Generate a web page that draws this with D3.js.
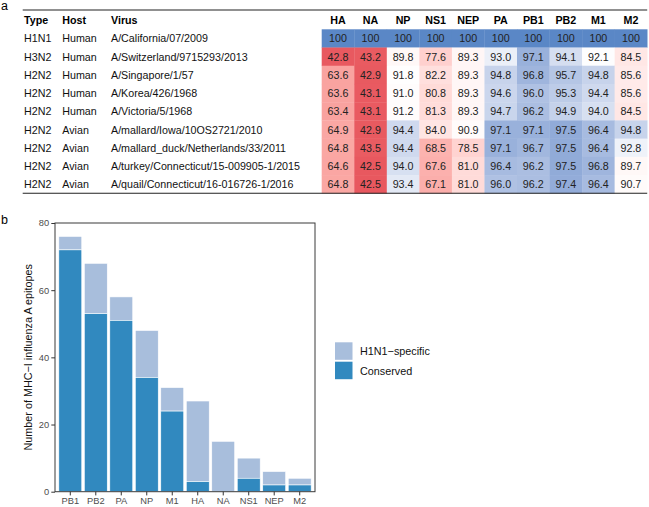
<!DOCTYPE html>
<html>
<head>
<meta charset="utf-8">
<script src="https://cdn.jsdelivr.net/npm/d3@7"></script>
<style>
  body { margin: 0; background: #fff; }
  svg { display: block; font-family: "Liberation Sans", Arial, sans-serif; }
</style>
</head>
<body>
<div id="chart"></div>
<script>
// ---- table (panel a) ----
const proteins = ["HA", "NA", "NP", "NS1", "NEP", "PA", "PB1", "PB2", "M1", "M2"];
const virusTypes = ["H1N1", "H3N2", "H2N2", "H2N2", "H2N2", "H2N2", "H2N2", "H2N2", "H2N2"];
const hosts = ["Human", "Human", "Human", "Human", "Human", "Avian", "Avian", "Avian", "Avian"];
const viruses = [
    "A/California/07/2009",
    "A/Switzerland/9715293/2013",
    "A/Singapore/1/57",
    "A/Korea/426/1968",
    "A/Victoria/5/1968",
    "A/mallard/Iowa/10OS2721/2010",
    "A/mallard_duck/Netherlands/33/2011",
    "A/turkey/Connecticut/15-009905-1/2015",
    "A/quail/Connecticut/16-016726-1/2016"
];
const identity = [
    [100, 100, 100, 100, 100, 100, 100, 100, 100, 100],
    [42.8, 43.2, 89.8, 77.6, 89.3, 93.0, 97.1, 94.1, 92.1, 84.5],
    [63.6, 42.9, 91.8, 82.2, 89.3, 94.8, 96.8, 95.7, 94.8, 85.6],
    [63.6, 43.1, 91.0, 80.8, 89.3, 94.6, 96.0, 95.3, 94.4, 85.6],
    [63.4, 43.1, 91.2, 81.3, 89.3, 94.7, 96.2, 94.9, 94.0, 84.5],
    [64.9, 42.9, 94.4, 84.0, 90.9, 97.1, 97.1, 97.5, 96.4, 94.8],
    [64.8, 43.5, 94.4, 68.5, 78.5, 97.1, 96.7, 97.5, 96.4, 92.8],
    [64.6, 42.5, 94.0, 67.6, 81.0, 96.4, 96.2, 97.5, 96.8, 89.7],
    [64.8, 42.5, 93.4, 67.1, 81.0, 96.0, 96.2, 97.4, 96.4, 90.7]
];

// ---- bar chart (panel b) ----
const genes = ["PB1", "PB2", "PA", "NP", "M1", "HA", "NA", "NS1", "NEP", "M2"];
const totalEpitopes = [76, 68, 58, 48, 31, 27, 15, 10, 6, 4];
const conservedEpitopes = [72, 53, 51, 34, 24, 3, 0, 4, 2, 2];
const yTicks = [0, 20, 40, 60, 80];
const legendLabels = ["H1N1\u2212specific", "Conserved"];

document.addEventListener("DOMContentLoaded", function () {
    const width = 649, height = 507;
    const svg = d3.select("#chart").append("svg")
        .attr("width", width)
        .attr("height", height);

    // panel letters
    svg.append("text").attr("x", 1).attr("y", 9.5)
        .style("font-size", "12.5px").text("a");
    svg.append("text").attr("x", 1).attr("y", 224)
        .style("font-size", "12.5px").text("b");

    // ---------- table ----------
    const fs = "10.7px";
    const tableLeft = 22.7, tableRight = 647.2;
    const rowTop = 29.3, rowH = 18.22;
    const cellX = d3.scaleBand().domain(proteins).range([321.7, tableRight]);
    const rowY = i => rowTop + i * rowH;

    const colour = d3.scaleLinear()
        .domain([42.5, 92, 100])
        .range(["#e8585f", "#ffffff", "#5a87c6"])
        .interpolate(d3.interpolateLab)
        .clamp(true);

    // header
    const header = svg.append("g").style("font-weight", "bold").style("font-size", fs);
    [["Type", 24], ["Host", 62.3], ["Virus", 111]].forEach(([t, x]) => {
        header.append("text").attr("x", x).attr("y", 19.5)
            .attr("dominant-baseline", "central").text(t);
    });
    header.selectAll("text.prot")
        .data(proteins)
        .enter()
        .append("text")
        .attr("class", "prot")
        .attr("x", d => cellX(d) + cellX.bandwidth() / 2)
        .attr("y", 19.5)
        .attr("text-anchor", "middle")
        .attr("dominant-baseline", "central")
        .text(d => d);

    // cells
    const rows = svg.append("g").selectAll("g")
        .data(identity)
        .enter()
        .append("g");

    rows.selectAll("rect")
        .data((row, i) => row.map((v, j) => ({ v, i, p: proteins[j] })))
        .enter()
        .append("rect")
        .attr("x", d => cellX(d.p))
        .attr("y", d => rowY(d.i))
        .attr("width", cellX.bandwidth() + 0.3)
        .attr("height", rowH + 0.3)
        .attr("fill", d => colour(d.v));

    rows.selectAll("text.val")
        .data((row, i) => row.map((v, j) => ({ v, i, p: proteins[j] })))
        .enter()
        .append("text")
        .attr("class", "val")
        .attr("x", d => cellX(d.p) + cellX.bandwidth() / 2)
        .attr("y", d => rowY(d.i) + rowH / 2)
        .attr("text-anchor", "middle")
        .attr("dominant-baseline", "central")
        .style("font-size", fs)
        .style("fill", "#222")
        .text(d => d.v === 100 ? "100" : d.v.toFixed(1));

    const labelCols = [[virusTypes, 24], [hosts, 62.3], [viruses, 111]];
    labelCols.forEach(([arr, x]) => {
        svg.append("g").selectAll("text")
            .data(arr)
            .enter()
            .append("text")
            .attr("x", x)
            .attr("y", (d, i) => rowY(i) + rowH / 2)
            .attr("dominant-baseline", "central")
            .style("font-size", fs)
            .style("fill", "#111")
            .text(d => d);
    });

    // rules
    svg.append("line").attr("x1", tableLeft).attr("x2", tableRight)
        .attr("y1", 10).attr("y2", 10).attr("stroke", "#222").attr("stroke-width", 1.1);
    svg.append("line").attr("x1", tableLeft).attr("x2", tableRight)
        .attr("y1", rowY(identity.length)).attr("y2", rowY(identity.length))
        .attr("stroke", "#222").attr("stroke-width", 1.1);

    // ---------- bar chart ----------
    const plot = { left: 55, right: 315, top: 223, bottom: 491.7 };
    const x = d3.scaleBand().domain(genes).range([plot.left, plot.right])
        .paddingInner(0.1).paddingOuter(0.15);
    const y = d3.scaleLinear().domain([0, 80]).range([plot.bottom, plot.top]);

    const lightBlue = "#a8bedc", darkBlue = "#3189bf";

    const bars = genes.map((g, i) => ({ g, total: totalEpitopes[i], cons: conservedEpitopes[i] }));

    svg.append("g").selectAll("rect")
        .data(bars)
        .enter()
        .append("rect")
        .attr("x", d => x(d.g))
        .attr("y", d => y(d.total))
        .attr("width", x.bandwidth())
        .attr("height", d => y(d.cons) - y(d.total))
        .attr("fill", lightBlue)
        .attr("stroke", "#fff")
        .attr("stroke-width", 0.6);

    svg.append("g").selectAll("rect")
        .data(bars.filter(d => d.cons > 0))
        .enter()
        .append("rect")
        .attr("x", d => x(d.g))
        .attr("y", d => y(d.cons))
        .attr("width", x.bandwidth())
        .attr("height", d => y(0) - y(d.cons))
        .attr("fill", darkBlue)
        .attr("stroke", "#fff")
        .attr("stroke-width", 0.6);

    // panel border
    svg.append("rect")
        .attr("x", plot.left).attr("y", plot.top)
        .attr("width", plot.right - plot.left)
        .attr("height", plot.bottom - plot.top)
        .attr("fill", "none")
        .attr("stroke", "#3a3a3a")
        .attr("stroke-width", 1);

    // axes
    const yAxis = svg.append("g")
        .attr("transform", `translate(${plot.left},0)`)
        .call(d3.axisLeft(y).tickValues(yTicks).tickSize(3.7).tickPadding(2.2));
    const xAxis = svg.append("g")
        .attr("transform", `translate(0,${plot.bottom})`)
        .call(d3.axisBottom(x).tickSize(3.7).tickPadding(2.2));

    [yAxis, xAxis].forEach(ax => {
        ax.select(".domain").remove();
        ax.selectAll(".tick line").attr("stroke", "#333");
        ax.selectAll(".tick text")
            .style("font-family", "Liberation Sans, Arial, sans-serif")
            .style("font-size", "9.3px")
            .style("fill", "#4d4d4d");
    });

    svg.append("text")
        .attr("transform", `translate(32, ${(plot.top + plot.bottom) / 2}) rotate(-90)`)
        .attr("text-anchor", "middle")
        .style("font-size", "10.8px")
        .style("fill", "#111")
        .text("Number of MHC\u2212I influenza A epitopes");

    // legend
    const legend = svg.append("g").attr("transform", "translate(335, 342.3)");
    const keyColours = [lightBlue, darkBlue];
    legend.selectAll("rect")
        .data(legendLabels)
        .enter()
        .append("rect")
        .attr("x", 0)
        .attr("y", (d, i) => i * 19.4)
        .attr("width", 17.5)
        .attr("height", 17.5)
        .attr("fill", (d, i) => keyColours[i]);
    legend.selectAll("text")
        .data(legendLabels)
        .enter()
        .append("text")
        .attr("x", 25)
        .attr("y", (d, i) => i * 19.4 + 8.9)
        .attr("dominant-baseline", "central")
        .style("font-size", "10.8px")
        .style("fill", "#111")
        .text(d => d);
});
</script>
</body>
</html>
